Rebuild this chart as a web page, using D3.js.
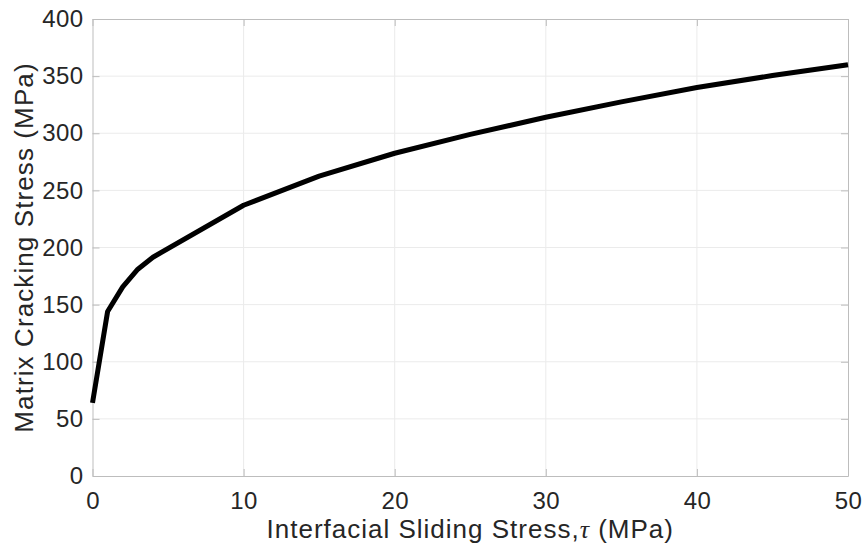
<!DOCTYPE html>
<html>
<head>
<meta charset="utf-8">
<title>Matrix cracking stress</title>
<script src="https://cdn.jsdelivr.net/npm/d3@7"></script>
<style>
body { margin: 0; background: #fff; }
svg { display: block; }
.tick text { font-family: "Liberation Sans", Arial, Helvetica, sans-serif; }
</style>
</head>
<body>
<script>
// sliding stress tau (MPa) and matrix cracking stress (MPa)
const tau = [0, 1, 2, 3, 4, 10, 15, 20, 25, 30, 35, 40, 45, 50];
const sigmaMC = [64, 144, 165.5, 181, 191.5, 237, 262.5, 282.5, 299, 314, 327.5, 340, 350.5, 360];
const xTicks = [0, 10, 20, 30, 40, 50];
const yTicks = [0, 50, 100, 150, 200, 250, 300, 350, 400];

const width = 866, height = 548;
const margin = {top: 19, right: 18, bottom: 72, left: 92.5};

const svg = d3.select("body").append("svg")
    .attr("width", width)
    .attr("height", height);

const x = d3.scaleLinear().domain([0, 50]).range([margin.left, width - margin.right]);
const y = d3.scaleLinear().domain([0, 400]).range([height - margin.bottom, margin.top]);

// grid
svg.append("g")
    .attr("stroke", "#ebebeb")
    .attr("stroke-width", 1)
    .selectAll("line.v")
    .data(xTicks.slice(1, -1))
    .join("line")
    .attr("x1", d => x(d)).attr("x2", d => x(d))
    .attr("y1", y(0)).attr("y2", y(400));

svg.append("g")
    .attr("stroke", "#ebebeb")
    .attr("stroke-width", 1)
    .selectAll("line.h")
    .data(yTicks.slice(1, -1))
    .join("line")
    .attr("y1", d => y(d)).attr("y2", d => y(d))
    .attr("x1", x(0)).attr("x2", x(50));

// axes (ticks point inward, like matlab)
const axisColor = "#bdbdbd";
function styleAxis(g) {
  g.select(".domain").attr("stroke", axisColor);
  g.selectAll(".tick line").attr("stroke", axisColor);
  g.selectAll(".tick text").attr("fill", "#262626").attr("font-size", 24)
      .attr("letter-spacing", 0.4);
}

svg.append("g")
    .attr("transform", `translate(0,${y(0)})`)
    .call(d3.axisBottom(x).tickValues(xTicks).tickSizeInner(-7).tickSizeOuter(0).tickPadding(16))
    .call(styleAxis)
    .call(g => g.selectAll(".tick text").attr("dy", "0.71em"));

svg.append("g")
    .attr("transform", `translate(0,${y(400)})`)
    .call(d3.axisTop(x).tickValues(xTicks).tickSizeInner(-7).tickSizeOuter(0).tickFormat(""))
    .call(styleAxis);

svg.append("g")
    .attr("transform", `translate(${x(0)},0)`)
    .call(d3.axisLeft(y).tickValues(yTicks).tickSizeInner(-7).tickSizeOuter(0).tickPadding(9))
    .call(styleAxis);

svg.append("g")
    .attr("transform", `translate(${x(50)},0)`)
    .call(d3.axisRight(y).tickValues(yTicks).tickSizeInner(-7).tickSizeOuter(0).tickFormat(""))
    .call(styleAxis);

// curve
const line = d3.line()
    .x((d, i) => x(tau[i]))
    .y(d => y(d));

svg.append("path")
    .datum(sigmaMC)
    .attr("fill", "none")
    .attr("stroke", "#000")
    .attr("stroke-width", 5)
    .attr("stroke-linejoin", "round")
    .attr("d", line);

// labels
const xl = svg.append("text")
    .attr("x", (x(0) + x(50)) / 2)
    .attr("y", 538)
    .attr("text-anchor", "middle")
    .attr("fill", "#262626")
    .attr("font-family", "Liberation Sans, Arial, sans-serif")
    .attr("font-size", 26)
    .attr("letter-spacing", 1);
xl.append("tspan").text("Interfacial Sliding Stress,");
xl.append("tspan")
    .attr("font-family", "Liberation Serif, Times New Roman, serif")
    .attr("font-style", "italic")
    .text("\u03C4");
xl.append("tspan").text(" (MPa)");

svg.append("text")
    .attr("transform", `translate(33,${(y(0) + y(400)) / 2}) rotate(-90)`)
    .attr("text-anchor", "middle")
    .attr("fill", "#262626")
    .attr("font-family", "Liberation Sans, Arial, sans-serif")
    .attr("font-size", 26)
    .attr("letter-spacing", 1.1)
    .text("Matrix Cracking Stress (MPa)");
</script>
</body>
</html>
